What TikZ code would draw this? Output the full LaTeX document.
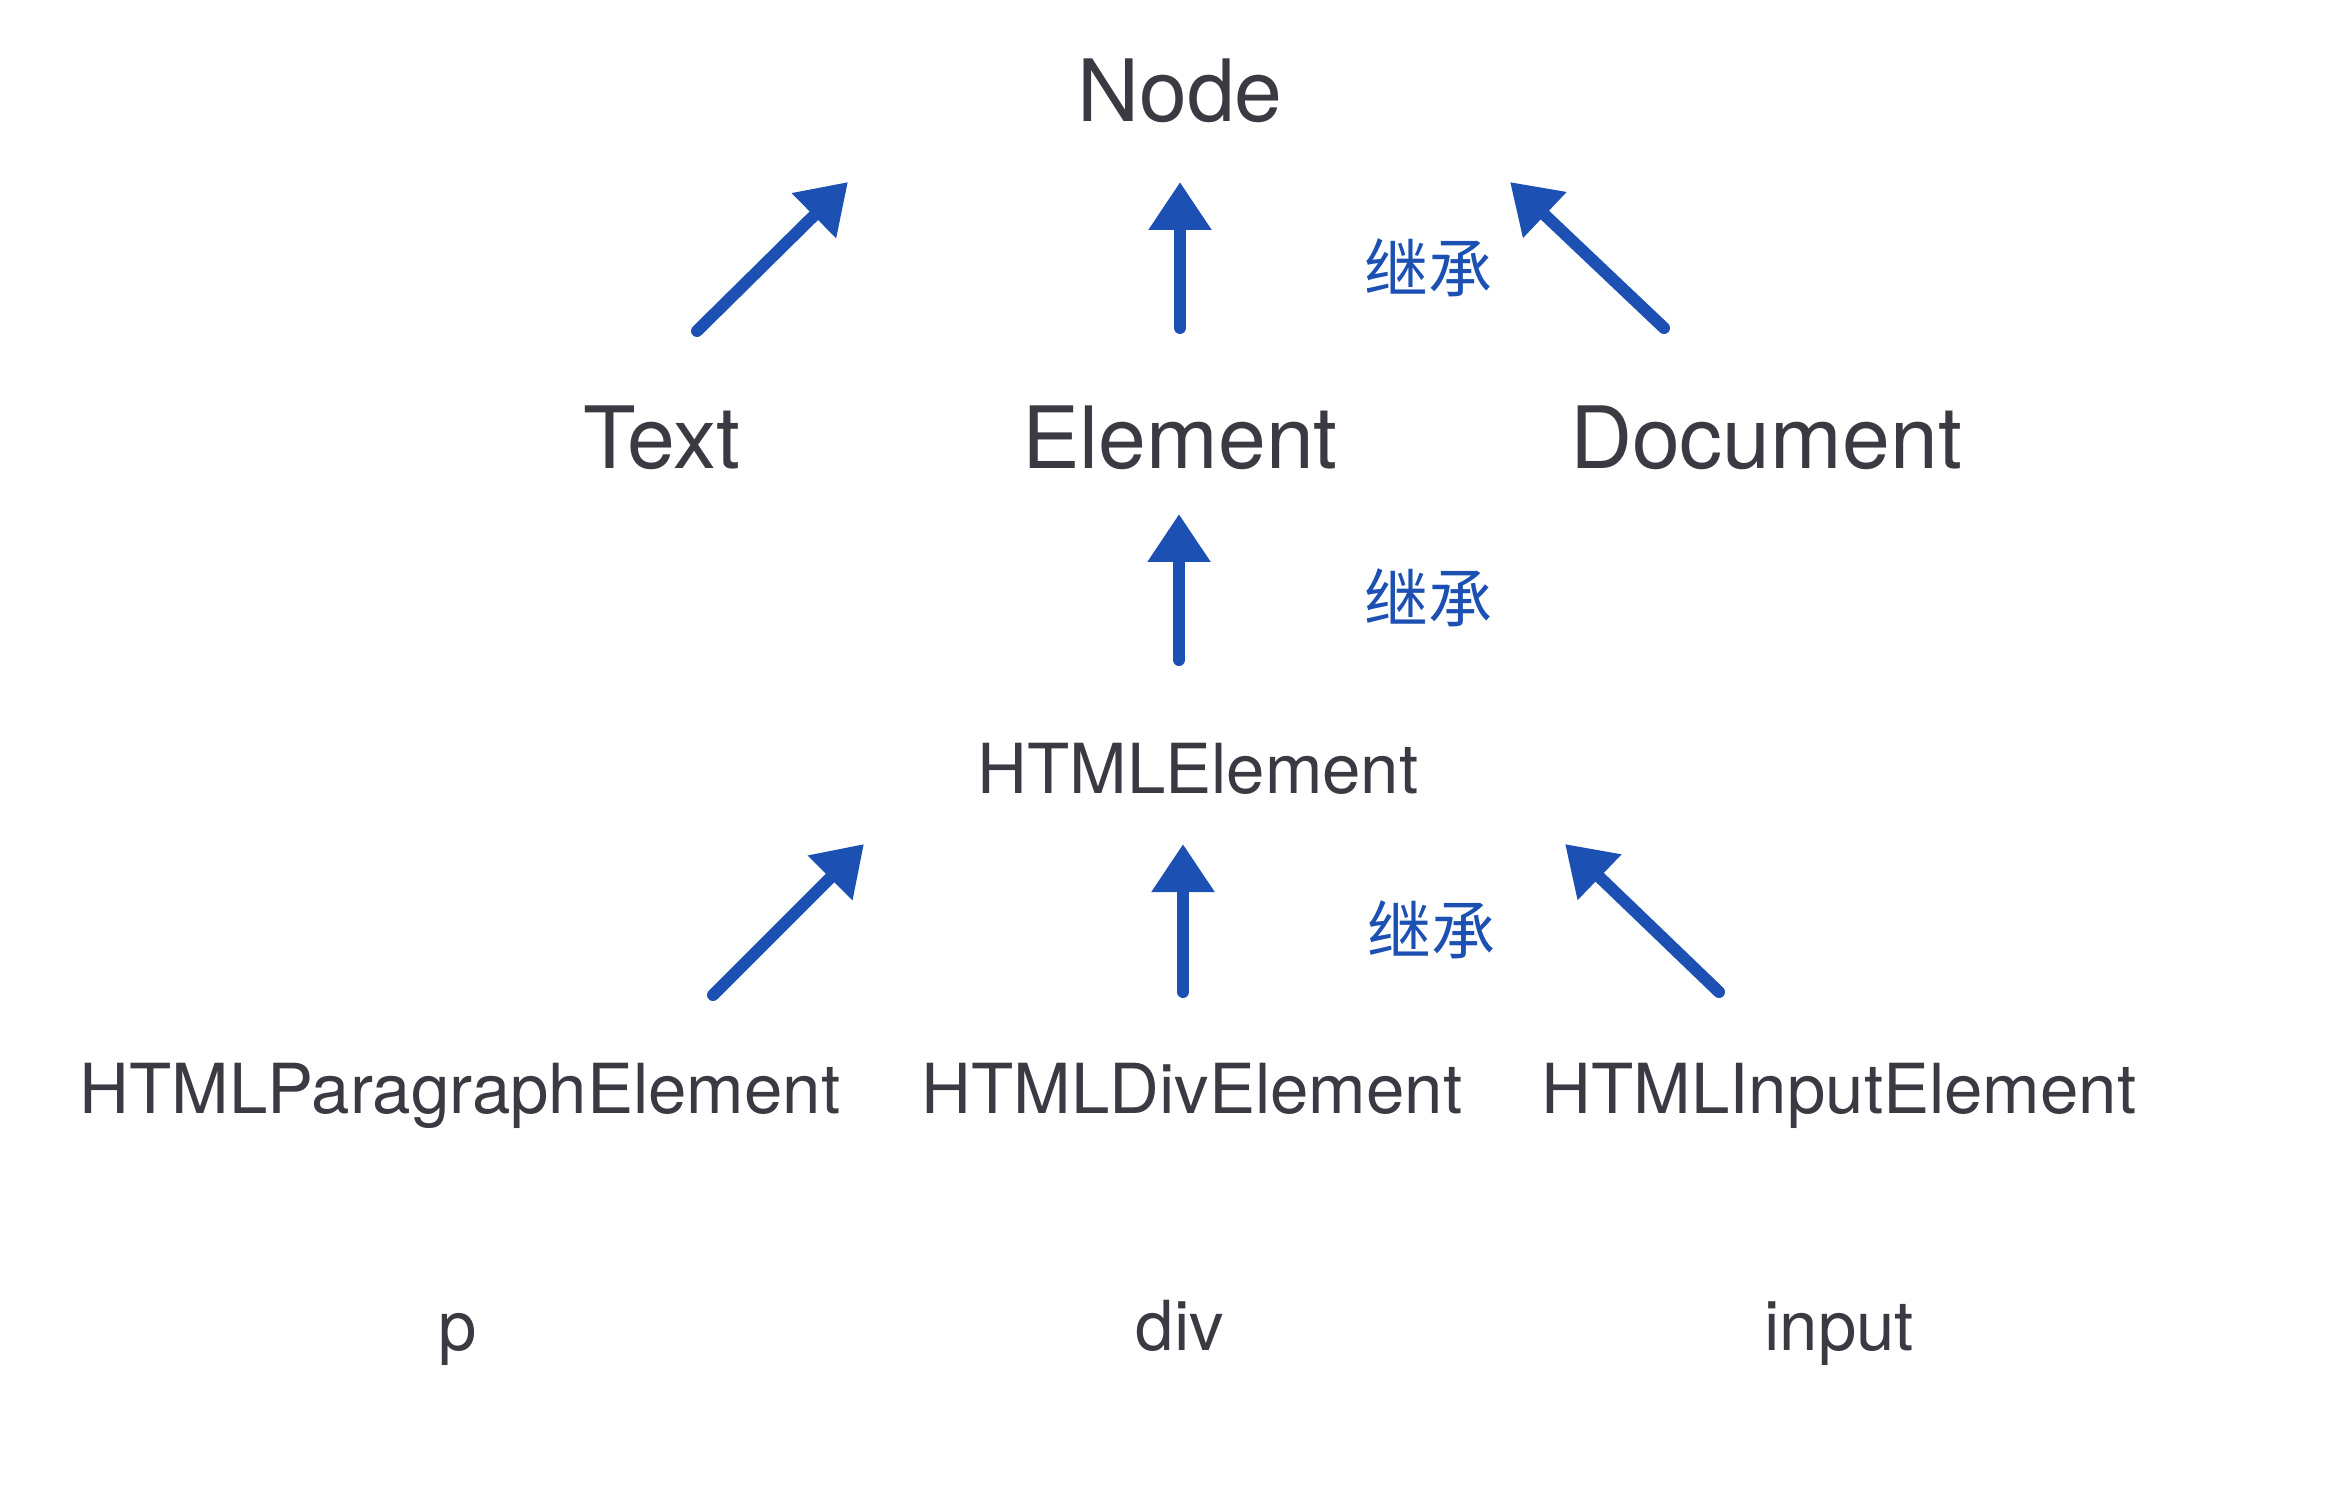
\documentclass[tikz,border=0pt]{standalone}
\usepackage{fontspec}
\setmainfont{TeX Gyre Heros}
\newfontfamily\cjk{Noto Sans CJK SC}
\usetikzlibrary{arrows.meta}
\definecolor{txt}{HTML}{3A3A42}
\definecolor{arrc}{HTML}{1C50B2}
\begin{document}
\begin{tikzpicture}[x=0.5pt,y=-0.5pt,
  lbl/.style={text=txt,inner sep=0pt,anchor=base},
  big/.style={lbl,font=\fontsize{43}{50}\selectfont},
  small/.style={lbl,font=\fontsize{34.5}{40}\selectfont},
  jc/.style={text=arrc,inner sep=0pt,font=\cjk\fontsize{32}{36}\selectfont},
  inh/.style={draw=arrc,line width=6pt,line cap=round,-{Triangle[length=24pt,width=30pt]}}]
\useasboundingbox[fill=white] (0,0) rectangle (2333,1491);
% texts
\node[big] (node) at (1180,122) {Node};
\node[big] (text) at (662,469) {Text};
\node[big] (element) at (1180,469) {Element};
\node[big] (document) at (1766,469) {Document};
\node[small] (html) at (1198,793) {HTMLElement};
\node[small] (para) at (460,1113) {HTMLParagraphElement};
\node[small] (divel) at (1192,1113) {HTMLDivElement};
\node[small] (input) at (1839,1113) {HTMLInputElement};
\node[small] (p) at (458,1350) {p};
\node[small] (div) at (1180,1350) {div};
\node[small] (inp) at (1839,1350) {input};
% labels
\node[jc] (j1) at (1428,268) {继承};
\node[jc] (j2) at (1428,598) {继承};
\node[jc] (j3) at (1431,930) {继承};
% arrow ends
\coordinate (a1s) at (697,331); \coordinate (a1e) at (848,182);
\coordinate (a2s) at (1180,328); \coordinate (a2e) at (1180,182);
\coordinate (a3s) at (1664,328); \coordinate (a3e) at (1510,182);
\coordinate (b1s) at (1179,660); \coordinate (b1e) at (1179,514);
\coordinate (c1s) at (713,995); \coordinate (c1e) at (864,844);
\coordinate (c2s) at (1183,992); \coordinate (c2e) at (1183,844);
\coordinate (c3s) at (1719,992); \coordinate (c3e) at (1565,844);
\draw[inh] (a1s) -- (a1e);
\draw[inh] (a2s) -- (a2e);
\draw[inh] (a3s) -- (a3e);
\draw[inh] (b1s) -- (b1e);
\draw[inh] (c1s) -- (c1e);
\draw[inh] (c2s) -- (c2e);
\draw[inh] (c3s) -- (c3e);
\end{tikzpicture}
\end{document}
